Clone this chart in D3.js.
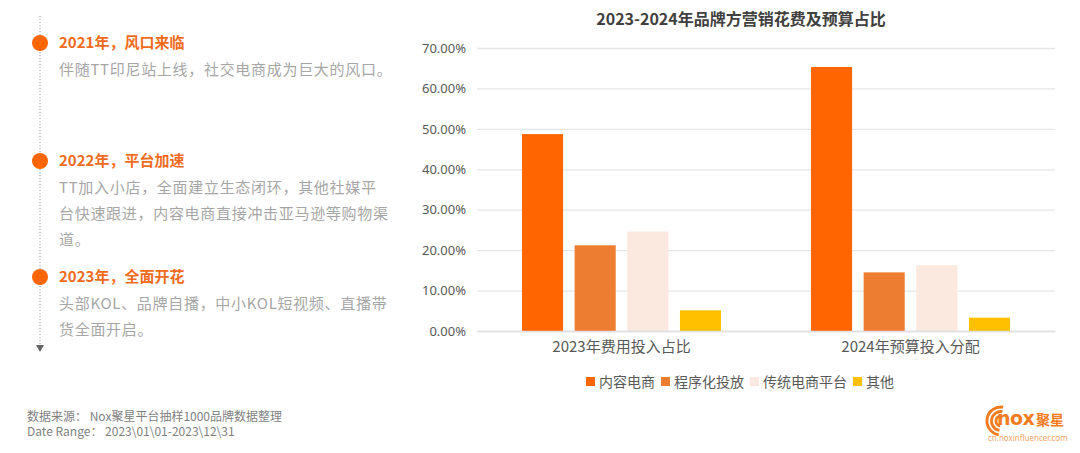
<!DOCTYPE html>
<html><head><meta charset="utf-8">
<script src="https://cdn.jsdelivr.net/npm/d3@7"></script>
<style>
html,body{margin:0;padding:0;background:#fff;}
svg{display:block;font-family:"Noto Sans CJK SC","Noto Sans",sans-serif;}
</style></head>
<body>
<svg id="c" width="1080" height="453"></svg>
<script>
// ---- data ----
const categories = ["2023年费用投入占比", "2024年预算投入分配"];
const seriesNames = ["内容电商", "程序化投放", "传统电商平台", "其他"];
const seriesColors = ["#FF6600", "#ED7D31", "#FBE9DF", "#FFC000"];
const values2023 = [0.487, 0.212, 0.246, 0.051];
const values2024 = [0.653, 0.145, 0.163, 0.033];
const yTicks = [0, 0.1, 0.2, 0.3, 0.4, 0.5, 0.6, 0.7];
const chartTitle = "2023-2024年品牌方营销花费及预算占比";
const timeline = [
  {head: "2021年，风口来临", lines: ["伴随TT印尼站上线，社交电商成为巨大的风口。"]},
  {head: "2022年，平台加速", lines: ["TT加入小店，全面建立生态闭环，其他社媒平", "台快速跟进，内容电商直接冲击亚马逊等购物渠", "道。"]},
  {head: "2023年，全面开花", lines: ["头部KOL、品牌自播，中小KOL短视频、直播带", "货全面开启。"]}
];
const footnotes = ["数据来源： Nox聚星平台抽样1000品牌数据整理", "Date Range： 2023\\01\\01-2023\\12\\31"];

const table = categories.map((c, i) => ({cat: c, vals: [values2023, values2024][i]}));

const svg = d3.select("#c");

// ---- left timeline ----
const tl = svg.append("g");
tl.append("line").attr("x1", 40).attr("x2", 40).attr("y1", 16).attr("y2", 346)
  .attr("stroke", "#9a9a9a").attr("stroke-width", 1).attr("stroke-dasharray", "1.2,1.8");
tl.append("path").attr("d", "M36,345 L44,345 L40,352 Z").attr("fill", "#666");
const headY = [43, 161, 277];
timeline.forEach((t, i) => {
  const y = headY[i];
  tl.append("circle").attr("cx", 40).attr("cy", y).attr("r", 8).attr("fill", "#FF6600");
  tl.append("text").attr("x", 59).attr("y", y).attr("dy", "0.36em")
    .attr("font-size", 15).attr("font-weight", "bold").attr("fill", "#F26B1D").text(t.head);
  t.lines.forEach((ln, j) => {
    tl.append("text").attr("x", 59).attr("y", y + 27 + j * 26).attr("dy", "0.36em")
      .attr("font-size", 15).attr("letter-spacing", "0.7px").attr("fill", "#A6A6A6").text(ln);
  });
});

// footnotes
footnotes.forEach((f, i) => {
  svg.append("text").attr("x", 27).attr("y", 417 + i * 15).attr("dy", "0.36em")
    .attr("font-size", 12).attr("fill", "#7F7F7F").text(f);
});

// ---- chart ----
const x0 = d3.scaleBand().domain(categories).range([477, 1055]).padding(0);
const x1 = d3.scaleBand().domain(seriesNames)
  .range([45, x0.bandwidth() - 45]).paddingInner(0.22).paddingOuter(0);
const y = d3.scaleLinear().domain([0, 0.7]).range([331, 48]);

svg.append("text").attr("x", 741).attr("y", 19).attr("dy", "0.36em").attr("text-anchor", "middle")
  .attr("font-size", 16).attr("font-weight", "bold").attr("fill", "#404040").text(chartTitle);

const yAxis = d3.axisLeft(y).tickValues(yTicks).tickSize(-(1055 - 477)).tickPadding(11)
  .tickFormat(d => (d * 100).toFixed(2) + "%");
const ga = svg.append("g").attr("transform", "translate(477,0)").call(yAxis);
ga.select(".domain").remove();
ga.selectAll(".tick line").attr("stroke", "#E6E6E6").attr("stroke-width", 1.3);
ga.selectAll(".tick text").attr("font-size", 13).attr("fill", "#595959")
  .attr("font-family", "'Noto Sans','Noto Sans CJK SC',sans-serif");

const groups = svg.append("g").selectAll("g").data(table).join("g")
  .attr("transform", d => `translate(${x0(d.cat)},0)`);
groups.selectAll("rect").data(d => d.vals.map((v, i) => ({name: seriesNames[i], v, i})))
  .join("rect")
  .attr("x", d => x1(d.name)).attr("width", x1.bandwidth())
  .attr("y", d => y(d.v)).attr("height", d => y(0) - y(d.v))
  .attr("fill", d => seriesColors[d.i]);

const xAxis = d3.axisBottom(x0).tickSize(0).tickPadding(10);
const gx = svg.append("g").attr("transform", "translate(0,331)").call(xAxis);
gx.select(".domain").attr("stroke", "#E0E0E0").attr("stroke-width", 1.3);
gx.selectAll(".tick text").attr("font-size", 15).attr("fill", "#595959")
  .attr("font-family", "'Noto Sans CJK SC',sans-serif");

// legend
const lg = svg.append("g");
let lx = 586;
seriesNames.forEach((n, i) => {
  lg.append("rect").attr("x", lx).attr("y", 377).attr("width", 9).attr("height", 9).attr("fill", seriesColors[i]);
  const t = lg.append("text").attr("x", lx + 13).attr("y", 382).attr("dy", "0.36em")
    .attr("font-size", 14).attr("fill", "#595959").text(n);
  lx += 13 + t.node().getComputedTextLength() + 6;
});

// logo
const logo = svg.append("g").attr("transform", "translate(986,404)");
const arc = d3.arc();
[5, 9.5, 14].forEach(r => {
  logo.append("path").attr("transform", "translate(15,17)")
    .attr("d", arc({innerRadius: r - 1.4, outerRadius: r + 1.4, startAngle: -Math.PI * 0.95, endAngle: Math.PI * 0.05}))
    .attr("fill", "#F47B20");
});
logo.append("text").attr("x", 11).attr("y", 21).attr("font-size", 19).attr("font-weight", "bold")
  .attr("font-family", "'DejaVu Sans',sans-serif").attr("fill", "#F47B20").attr("letter-spacing", "-0.5px").text("nox");
logo.append("text").attr("x", 50).attr("y", 21).attr("font-size", 14).attr("font-weight", "bold")
  .attr("fill", "#F47B20").text("聚星");
logo.append("text").attr("x", 2).attr("y", 37).attr("font-size", 8)
  .attr("font-family", "'Noto Sans',sans-serif").attr("fill", "#F4A46A").text("cn.noxinfluencer.com");
</script>
</body></html>
